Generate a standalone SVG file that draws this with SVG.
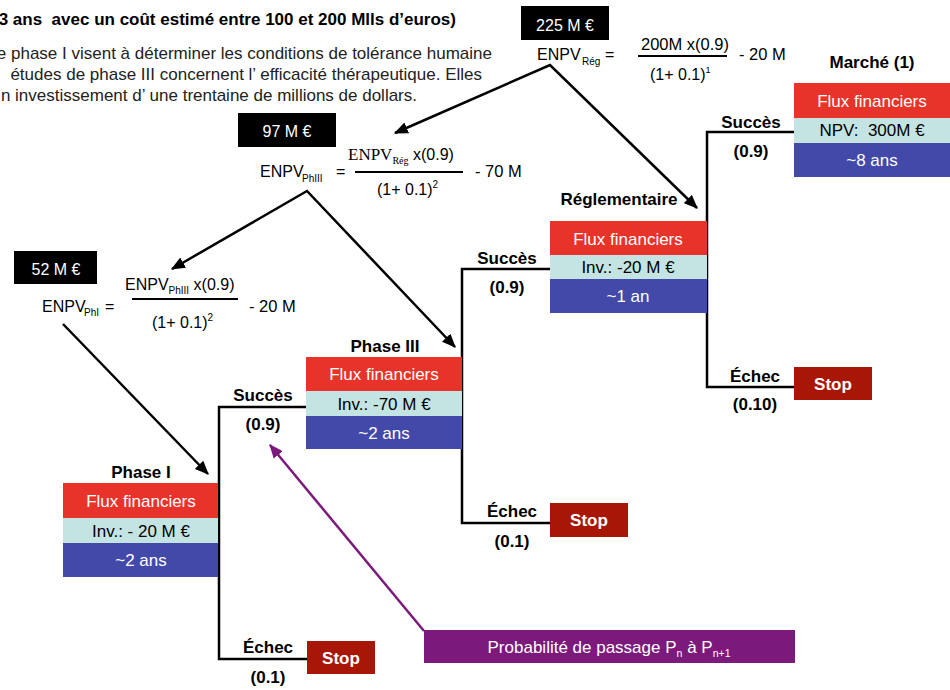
<svg xmlns="http://www.w3.org/2000/svg" width="950" height="690" viewBox="0 0 950 690">
<defs>
<style>
text{font-family:"Liberation Sans",Arial,sans-serif;}
.b{font-weight:bold;font-size:17px;fill:#000;text-anchor:middle;}
.w{font-size:17px;fill:#fff;text-anchor:middle;}
.k{font-size:17px;fill:#000;text-anchor:middle;}
.para{font-size:17px;fill:#222;text-anchor:end;}
.f{font-size:16px;fill:#000;}
.sub{font-size:10px;fill:#000;}
.serif{font-family:"Liberation Serif","Times New Roman",serif;}
.red{fill:#E8332A;}
.teal{fill:#C4E4E4;}
.blue{fill:#4349A8;}
.stop{fill:#A81706;}
.blk{fill:#000;}
.ln{fill:none;stroke:#000;stroke-width:2.5;}
.ar{fill:none;stroke:#000;stroke-width:2.5;marker-start:url(#ah);marker-end:url(#ah);}
.ar1{fill:none;stroke:#000;stroke-width:2.5;marker-end:url(#ah);}
.fl{stroke:#000;stroke-width:2;}
</style>
<marker id="ah" viewBox="0 0 12 10" refX="11" refY="5" markerWidth="14" markerHeight="12" markerUnits="userSpaceOnUse" orient="auto-start-reverse">
<path d="M0,0 L12,5 L0,10 z" fill="#000"/>
</marker>
<marker id="ahp" viewBox="0 0 12 10" refX="11" refY="5" markerWidth="14" markerHeight="12" markerUnits="userSpaceOnUse" orient="auto">
<path d="M0,0 L12,5 L0,10 z" fill="#7B1A7A"/>
</marker>
</defs>
<rect width="950" height="690" fill="#fff"/>

<g id="header">
<text x="456" y="25" xml:space="preserve" style="font-weight:bold;font-size:17px;text-anchor:end">3 ans  avec un coût estimé entre 100 et 200 Mlls d’euros)</text>
<text class="para" x="492" y="59">e phase I visent à déterminer les conditions de tolérance humaine</text>
<text class="para" x="482" y="80">études de phase III concernent l’ efficacité thérapeutique. Elles</text>
<text class="para" x="417" y="101">n investissement d’ une trentaine de millions de dollars.</text>
</g>

<g id="connectors">
<path class="ar" d="M395,133 L550,65 L697,208"/>
<path class="ar" d="M172,269 L307,191 L455,347"/>
<path class="ar1" d="M63,324 L208,474"/>
<path d="M424,631 L270,445" fill="none" stroke="#7B1A7A" stroke-width="2.5" marker-end="url(#ahp)"/>
<path class="ln" d="M306,407 H219 V659 H307"/>
<path class="ln" d="M550,269 H462 V523 H550"/>
<path class="ln" d="M794,132 H707 V387 H794"/>
</g>

<g id="enpv-reg">
<rect class="blk" x="521" y="6" width="88" height="34"/>
<text class="w" x="565" y="31" style="font-size:16px">225 M €</text>
<text class="f" x="537" y="60">ENPV</text>
<text class="sub" x="582" y="65">Rég</text>
<text class="f" x="605" y="60">=</text>
<text class="f" x="641" y="50" style="font-size:16.5px">200M x(0.9)</text>
<line class="fl" x1="638" y1="56" x2="727" y2="56"/>
<text class="f" x="650" y="80">(1+ 0.1)<tspan font-size="9" dy="-7">1</tspan></text>
<text class="f" x="739" y="60" style="font-size:16.5px">- 20 M</text>
</g>

<g id="enpv-ph3">
<rect class="blk" x="238" y="113" width="98" height="34"/>
<text class="w" x="287" y="137" style="font-size:16px">97 M €</text>
<text class="f" x="260" y="177">ENPV</text>
<text class="sub" x="302" y="182">PhIII</text>
<text class="f" x="336" y="177">=</text>
<text class="f" x="348" y="160"><tspan class="serif" font-size="17">ENPV</tspan><tspan class="serif" font-size="10" dy="4">Rég</tspan><tspan dy="-4"> x(0.9)</tspan></text>
<line class="fl" x1="355" y1="172" x2="463" y2="172"/>
<text class="f" x="377" y="195">(1+ 0.1)<tspan font-size="10" dy="-7">2</tspan></text>
<text class="f" x="475" y="177" style="font-size:16.5px">- 70 M</text>
</g>

<g id="enpv-ph1">
<rect class="blk" x="14" y="251" width="83" height="33"/>
<text class="w" x="56" y="275" style="font-size:16px">52 M €</text>
<text class="f" x="42" y="312">ENPV</text>
<text class="sub" x="84" y="316">PhI</text>
<text class="f" x="105" y="312">=</text>
<text class="f" x="125" y="290">ENPV<tspan font-size="10" dy="4">PhIII</tspan><tspan dy="-4"> x(0.9)</tspan></text>
<line class="fl" x1="132" y1="299" x2="238" y2="299"/>
<text class="f" x="152" y="328">(1+ 0.1)<tspan font-size="10" dy="-7">2</tspan></text>
<text class="f" x="249" y="312" style="font-size:16.5px">- 20 M</text>
</g>

<g id="marche">
<text class="b" x="872" y="68">Marché (1)</text>
<rect class="red" x="794" y="83" width="156" height="35"/>
<rect class="teal" x="794" y="118" width="156" height="25"/>
<rect class="blue" x="794" y="143" width="156" height="34"/>
<text class="w" x="872" y="107">Flux financiers</text>
<text class="k" x="872" y="136" xml:space="preserve">NPV:  300M €</text>
<text class="w" x="872" y="166">~8 ans</text>
</g>

<g id="reglementaire">
<text class="b" x="619" y="205">Réglementaire</text>
<rect class="red" x="550" y="221" width="157" height="34"/>
<rect class="teal" x="550" y="255" width="157" height="24"/>
<rect class="blue" x="550" y="279" width="157" height="34"/>
<text class="w" x="628" y="245">Flux financiers</text>
<text class="k" x="628" y="273">Inv.: -20 M €</text>
<text class="w" x="628" y="302">~1 an</text>
</g>

<g id="phase3">
<text class="b" x="385" y="352">Phase III</text>
<rect class="red" x="306" y="357" width="156" height="34"/>
<rect class="teal" x="306" y="391" width="156" height="25"/>
<rect class="blue" x="306" y="416" width="156" height="33"/>
<text class="w" x="384" y="380">Flux financiers</text>
<text class="k" x="384" y="410">Inv.: -70 M €</text>
<text class="w" x="384" y="439">~2 ans</text>
</g>

<g id="phase1">
<text class="b" x="141" y="478">Phase I</text>
<rect class="red" x="63" y="483" width="155" height="35"/>
<rect class="teal" x="63" y="518" width="155" height="25"/>
<rect class="blue" x="63" y="543" width="155" height="34"/>
<text class="w" x="141" y="507">Flux financiers</text>
<text class="k" x="141" y="537">Inv.: - 20 M €</text>
<text class="w" x="141" y="566">~2 ans</text>
</g>

<g id="labels">
<text class="b" x="263" y="401">Succès</text>
<text class="b" x="263" y="430">(0.9)</text>
<text class="b" x="268" y="653">Échec</text>
<text class="b" x="268" y="683">(0.1)</text>
<text class="b" x="507" y="264">Succès</text>
<text class="b" x="507" y="293">(0.9)</text>
<text class="b" x="512" y="517">Échec</text>
<text class="b" x="512" y="547">(0.1)</text>
<text class="b" x="751" y="128">Succès</text>
<text class="b" x="751" y="157">(0.9)</text>
<text class="b" x="755" y="382">Échec</text>
<text class="b" x="755" y="410">(0.10)</text>
</g>

<g id="stop1">
<rect class="stop" x="307" y="641" width="68" height="33"/>
<text class="w" x="341" y="664" style="font-weight:bold">Stop</text>
</g>
<g id="stop2">
<rect class="stop" x="550" y="503" width="78" height="34"/>
<text class="w" x="589" y="526" style="font-weight:bold">Stop</text>
</g>
<g id="stop3">
<rect class="stop" x="794" y="367" width="78" height="33"/>
<text class="w" x="833" y="390" style="font-weight:bold">Stop</text>
</g>

<g id="proba">
<rect x="424" y="630" width="371" height="33" fill="#7B1A7A"/>
<text x="609" y="653" style="font-size:17px;fill:#fff;text-anchor:middle">Probabilité de passage P<tspan font-size="10.5" dy="4">n</tspan><tspan dy="-4"> à P</tspan><tspan font-size="10.5" dy="4">n+1</tspan></text>
</g>
</svg>
